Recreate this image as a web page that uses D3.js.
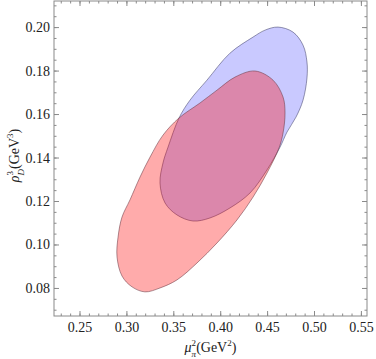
<!DOCTYPE html>
<html>
<head>
<meta charset="utf-8">
<script src="https://cdn.jsdelivr.net/npm/d3@7"></script>
<style>
  body { margin: 0; background: #fff; }
  text { font-family: "Liberation Serif", "DejaVu Serif", serif; }
</style>
</head>
<body>
<script>
// tick values
const xTicks = [0.25, 0.30, 0.35, 0.40, 0.45, 0.50, 0.55];
const yTicks = [0.08, 0.10, 0.12, 0.14, 0.16, 0.18, 0.20];
const xMinor = d3.range(23, 56).map(d => d / 100);
const yMinor = d3.range(14, 43).map(d => d / 200);

// contour of the blue region (mu_pi^2, rho_D^3)
const blueX = [0.4616, 0.4776, 0.4883, 0.4925, 0.4925, 0.4883, 0.4808, 0.4712, 0.4638, 0.4499, 0.4318, 0.4104,
               0.3891, 0.3710, 0.3539, 0.3412, 0.3358, 0.3390, 0.3444, 0.3561, 0.3678, 0.3859, 0.4104, 0.4350, 0.4478];
const blueY = [0.2000, 0.1977, 0.1917, 0.1839, 0.1766, 0.1664, 0.1586, 0.1517, 0.1448, 0.1343, 0.1237, 0.1168,
               0.1122, 0.1108, 0.1136, 0.1191, 0.1283, 0.1375, 0.1448, 0.1582, 0.1664, 0.1756, 0.1880, 0.1954, 0.1986];

// contour of the red region
const redX = [0.4371, 0.4563, 0.4670, 0.4691, 0.4670, 0.4627, 0.4499, 0.4350, 0.4179, 0.3966, 0.3753, 0.3539, 0.3358,
              0.3198, 0.3060, 0.2953, 0.2900, 0.2911, 0.2953, 0.3038, 0.3145, 0.3252, 0.3390, 0.3561, 0.3785, 0.3966, 0.4158];
const redY = [0.1798, 0.1756, 0.1678, 0.1605, 0.1513, 0.1444, 0.1329, 0.1218, 0.1113, 0.1007, 0.0915, 0.0837, 0.0800,
              0.0782, 0.0805, 0.0855, 0.0943, 0.1034, 0.1126, 0.1205, 0.1310, 0.1402, 0.1503, 0.1582, 0.1651, 0.1710, 0.1770];

const width = 376, height = 359;
const margin = { top: 1, right: 9, bottom: 43, left: 54 };

const svg = d3.select('body').append('svg')
  .attr('width', width).attr('height', height);

const x = d3.scaleLinear()
  .domain([0.2228, 0.5565])
  .range([margin.left, width - margin.right]);

const y = d3.scaleLinear()
  .domain([0.0671, 0.2120])
  .range([height - margin.bottom, margin.top]);

const line = d3.line()
  .x(d => x(d[0]))
  .y(d => y(d[1]))
  .curve(d3.curveCatmullRomClosed);

const blue = blueX.map((v, i) => [v, blueY[i]]);
const red = redX.map((v, i) => [v, redY[i]]);

svg.append('path')
  .attr('d', line(blue))
  .attr('fill', 'rgba(0,0,255,0.21)')
  .attr('stroke', 'rgba(70,70,110,0.7)')
  .attr('stroke-width', 0.8);

svg.append('path')
  .attr('d', line(red))
  .attr('fill', 'rgba(255,0,0,0.33)')
  .attr('stroke', 'rgba(110,60,70,0.7)')
  .attr('stroke-width', 0.8);

// frame ticks, pointing inward
const x0 = margin.left, x1 = width - margin.right;
const y0 = height - margin.bottom, y1 = margin.top;
const fmt = d3.format('.2f');

function addAxis(axis, tr, labelled) {
  const g = svg.append('g').attr('transform', tr).call(axis);
  g.select('.domain').remove();
  g.selectAll('line').attr('stroke', '#8a8a8a');
  g.selectAll('text').attr('fill', '#222').style('font-size', '14px')
    .style('font-family', '"Liberation Serif", serif');
  if (!labelled) g.selectAll('text').remove();
  return g;
}

addAxis(d3.axisBottom(x).tickValues(xMinor).tickSize(-2.5).tickFormat(''), `translate(0,${y0})`, false);
addAxis(d3.axisBottom(x).tickValues(xTicks).tickSize(-5).tickPadding(6).tickFormat(fmt), `translate(0,${y0})`, true);
addAxis(d3.axisTop(x).tickValues(xMinor).tickSize(-2.5).tickFormat(''), `translate(0,${y1})`, false);
addAxis(d3.axisTop(x).tickValues(xTicks).tickSize(-5).tickFormat(''), `translate(0,${y1})`, false);

addAxis(d3.axisLeft(y).tickValues(yMinor).tickSize(-2.5).tickFormat(''), `translate(${x0},0)`, false);
addAxis(d3.axisLeft(y).tickValues(yTicks).tickSize(-5).tickPadding(4).tickFormat(fmt), `translate(${x0},0)`, true);
addAxis(d3.axisRight(y).tickValues(yMinor).tickSize(-2.5).tickFormat(''), `translate(${x1},0)`, false);
addAxis(d3.axisRight(y).tickValues(yTicks).tickSize(-5).tickFormat(''), `translate(${x1},0)`, false);

svg.append('rect')
  .attr('x', x0).attr('y', y1)
  .attr('width', x1 - x0).attr('height', y0 - y1)
  .attr('fill', 'none')
  .attr('stroke', '#8a8a8a')
  .attr('stroke-width', 1);

// axis labels
const xl = svg.append('text')
  .attr('x', (x0 + x1) / 2)
  .attr('y', 352)
  .attr('text-anchor', 'middle')
  .attr('fill', '#222')
  .style('font-size', '14px');
xl.append('tspan').attr('font-style', 'italic').text('μ');
xl.append('tspan').attr('font-size', '9px').attr('dy', -6).text('2');
xl.append('tspan').attr('font-size', '9px').attr('font-style', 'italic').attr('dx', -4.5).attr('dy', 11).text('π');
xl.append('tspan').attr('dy', -5).text('(GeV');
xl.append('tspan').attr('font-size', '9px').attr('dy', -6).text('2');
xl.append('tspan').attr('dy', 6).text(')');

const yl = svg.append('text')
  .attr('transform', `translate(19,${(y0 + y1) / 2 - 3}) rotate(-90)`)
  .attr('text-anchor', 'middle')
  .attr('fill', '#222')
  .style('font-size', '14px');
yl.append('tspan').attr('font-style', 'italic').text('ρ');
yl.append('tspan').attr('font-size', '9px').attr('dy', -6).text('3');
yl.append('tspan').attr('font-size', '9px').attr('font-style', 'italic').attr('dx', -4.5).attr('dy', 11).text('D');
yl.append('tspan').attr('dy', -5).text('(GeV');
yl.append('tspan').attr('font-size', '9px').attr('dy', -6).text('3');
yl.append('tspan').attr('dy', 6).text(')');
</script>
</body>
</html>
